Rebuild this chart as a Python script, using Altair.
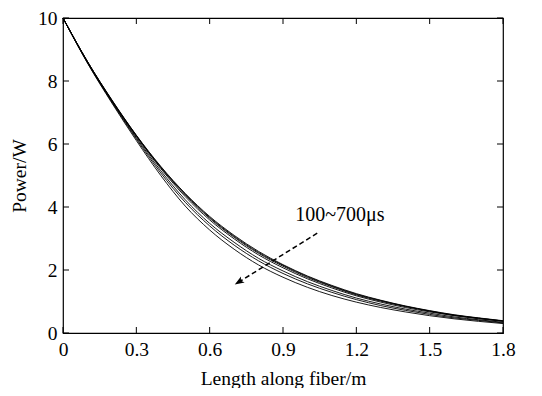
import altair as alt
import pandas as pd

x_vals = [0.0, 0.1, 0.2, 0.3, 0.4, 0.5, 0.6, 0.7, 0.8, 0.9, 1.0, 1.1, 1.2, 1.3, 1.4, 1.5, 1.6, 1.7, 1.8]
c1 = [10, 8.62, 7.4, 6.28, 5.29, 4.43, 3.7, 3.1, 2.59, 2.17, 1.81, 1.51, 1.25, 1.04, 0.86, 0.71, 0.58, 0.48, 0.39]
c2 = [10, 8.62, 7.39, 6.27, 5.27, 4.41, 3.67, 3.07, 2.56, 2.15, 1.79, 1.49, 1.23, 1.03, 0.85, 0.70, 0.57, 0.47, 0.38]
c3 = [10, 8.61, 7.38, 6.26, 5.25, 4.38, 3.64, 3.04, 2.53, 2.12, 1.76, 1.47, 1.21, 1.01, 0.84, 0.69, 0.56, 0.47, 0.38]
c4 = [10, 8.61, 7.37, 6.24, 5.22, 4.33, 3.59, 2.99, 2.48, 2.07, 1.72, 1.43, 1.18, 0.98, 0.81, 0.67, 0.55, 0.45, 0.37]
c5 = [10, 8.59, 7.35, 6.2, 5.15, 4.23, 3.48, 2.88, 2.37, 1.97, 1.63, 1.35, 1.11, 0.92, 0.76, 0.63, 0.51, 0.42, 0.34]
c6 = [10, 8.58, 7.33, 6.16, 5.08, 4.15, 3.4, 2.79, 2.29, 1.89, 1.56, 1.29, 1.06, 0.87, 0.72, 0.59, 0.48, 0.40, 0.32]
c7 = [10, 8.57, 7.3, 6.11, 5.0, 4.03, 3.27, 2.66, 2.16, 1.77, 1.45, 1.19, 0.98, 0.81, 0.67, 0.55, 0.45, 0.37, 0.3]
curve_names = ["100", "200", "300", "400", "500", "600", "700"]
x_ticks = [0, 0.3, 0.6, 0.9, 1.2, 1.5, 1.8]
y_ticks = [0, 2, 4, 6, 8, 10]
label_text = ["100~700μs"]
label_pos = [(0.95, 3.75)]
arrow_start = (1.04, 3.17)
arrow_end = (0.72, 1.62)

rows = []
for name, ys in zip(curve_names, [c1, c2, c3, c4, c5, c6, c7]):
    for xv, yv in zip(x_vals, ys):
        rows.append({"x": xv, "P": yv, "curve": name})
df = pd.DataFrame(rows)

W, H = 440, 315
FONT = "Times New Roman, Liberation Serif, serif"
FS = 19.5
xs = alt.Scale(domain=[0, 1.8], nice=False, zero=False)
ys_ = alt.Scale(domain=[0, 10], nice=False)

lines = alt.Chart(df).mark_line(color="black", strokeWidth=0.9, interpolate="monotone").encode(
    x=alt.X("x:Q", scale=xs, axis=alt.Axis(values=x_ticks, title="Length along fiber/m", format=".1~f")),
    y=alt.Y("P:Q", scale=ys_, axis=alt.Axis(values=y_ticks, title="Power/W")),
    detail="curve:N",
)

xt = pd.DataFrame({"x": x_ticks})
yt = pd.DataFrame({"P": y_ticks})
tl = 6
bottom_ticks = alt.Chart(xt).mark_rule(color="black", strokeWidth=1).encode(
    x=alt.X("x:Q", scale=xs), y=alt.value(H), y2=alt.value(H - tl))
top_ticks = alt.Chart(xt).mark_rule(color="black", strokeWidth=1).encode(
    x=alt.X("x:Q", scale=xs), y=alt.value(0), y2=alt.value(tl))
left_ticks = alt.Chart(yt).mark_rule(color="black", strokeWidth=1).encode(
    y=alt.Y("P:Q", scale=ys_), x=alt.value(0), x2=alt.value(tl))
right_ticks = alt.Chart(yt).mark_rule(color="black", strokeWidth=1).encode(
    y=alt.Y("P:Q", scale=ys_), x=alt.value(W), x2=alt.value(W - tl))

ann = pd.DataFrame({"x": [label_pos[0][0]], "P": [label_pos[0][1]], "t": label_text})
text = alt.Chart(ann).mark_text(font=FONT, fontSize=20, align="left", baseline="middle", color="black").encode(
    x=alt.X("x:Q", scale=xs), y=alt.Y("P:Q", scale=ys_), text="t:N")

arr = pd.DataFrame({"x": [arrow_start[0]], "P": [arrow_start[1]], "x2": [arrow_end[0]], "P2": [arrow_end[1]]})
arrow_line = alt.Chart(arr).mark_rule(color="black", strokeWidth=1.5, strokeDash=[5, 3]).encode(
    x=alt.X("x:Q", scale=xs), y=alt.Y("P:Q", scale=ys_), x2="x2:Q", y2="P2:Q")
head = pd.DataFrame({"x": [arrow_end[0]], "P": [arrow_end[1]]})
arrow_head = alt.Chart(head).mark_point(
    shape="M0,-1 L0.7,0.9 L0,0.45 L-0.7,0.9 Z", filled=True, color="black", opacity=1, size=100, angle=238
).encode(x=alt.X("x:Q", scale=xs), y=alt.Y("P:Q", scale=ys_))

chart = alt.layer(lines, bottom_ticks, top_ticks, left_ticks, right_ticks, arrow_line, arrow_head, text).properties(
    width=W, height=H,
    autosize=alt.AutoSizeParams(type="none"),
    padding={"left": 55, "top": 10, "right": 31, "bottom": 55},
).configure_view(stroke="black", strokeWidth=1.2).configure_axis(
    grid=False, domain=False, ticks=False, labelFlush=False, labelOverlap=False,
    labelFont=FONT, titleFont=FONT, labelFontSize=FS, titleFontSize=FS,
    labelColor="black", titleColor="black", titleFontWeight="normal",
).configure_axisX(labelPadding=7, titlePadding=11).configure_axisY(labelPadding=6, titlePadding=8)

chart.save("out.html", embed_options={"renderer": "svg", "actions": False})
